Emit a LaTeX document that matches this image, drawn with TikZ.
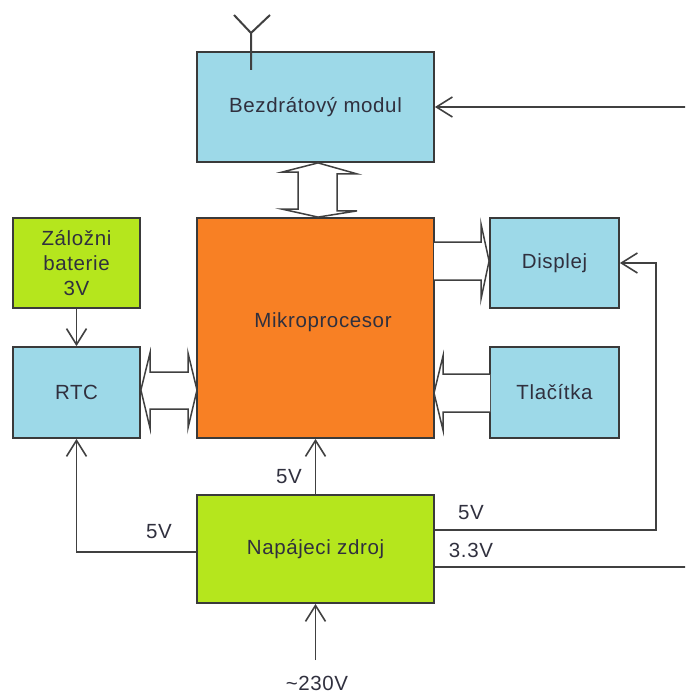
\documentclass[tikz,border=0pt]{standalone}
\usepackage{fontspec}
\setmainfont[LetterSpace=3]{Liberation Sans}
\usetikzlibrary{arrows.meta,calc}
\definecolor{boxblue}{HTML}{9DD9E8}
\definecolor{boxgreen}{HTML}{B5E61D}
\definecolor{boxorange}{HTML}{F88024}
\definecolor{edge}{HTML}{3A3A3A}
\definecolor{txt}{HTML}{30303E}
\definecolor{wire}{HTML}{404040}
\tikzset{
  blk/.style={draw=edge, line width=1.8pt, rectangle, inner sep=0pt, text=txt,
    font=\fontsize{20.5}{25}\selectfont, align=center},
  bluebox/.style={blk, fill=boxblue},
  greenbox/.style={blk, fill=boxgreen},
  orangebox/.style={blk, fill=boxorange},
  pw/.style={draw=wire, line width=1.6pt},
  pwarrow/.style={pw, -{Straight Barb[length=16pt,width=20pt,line width=1.6pt]}},
  bus/.style={draw=wire, line width=1.5pt, fill=white, line join=miter},
  lbl/.style={text=txt, font=\fontsize{20.5}{24}\selectfont, inner sep=0pt},
}
\begin{document}
\begin{tikzpicture}[x=1pt,y=-1pt]
\useasboundingbox (0,0) rectangle (685,693);
\clip (0,0) rectangle (685,693);

% blocks
\node[bluebox, minimum width=237pt, minimum height=110pt] (bez) at (315.5,107) {Bezdrátový modul};
\node[orangebox, minimum width=237pt, minimum height=220pt] (mic) at (315.5,328) {};
\node[lbl] (miclbl) at (323,322) {Mikroprocesor};
\node[greenbox, minimum width=237pt, minimum height=108pt] (nap) at (315.5,549) {Napájeci zdroj};
\node[bluebox, minimum width=129pt, minimum height=90pt] (dis) at (554.5,263) {Displej};
\node[bluebox, minimum width=129pt, minimum height=91pt] (tla) at (554.5,392.5) {Tlačítka};
\node[greenbox, minimum width=127pt, minimum height=90pt] (bat) at (76.5,263) {Záložni\\baterie\\3V};
\node[bluebox, minimum width=127pt, minimum height=91pt] (rtc) at (76.5,392.5) {RTC};

% antenna
\coordinate (antbase) at (251,70);
\coordinate (antjoin) at (251,33);
\coordinate (antl) at (234,15);
\coordinate (antr) at (270,15);
\draw[pw, line width=2pt] (antbase) -- (antjoin) -- (antl);
\draw[pw, line width=2pt] (antjoin) -- (antr);

% bus: bez <-> mic
\draw[bus] ([xshift=2.5pt]bez.south) -- ++(39,11) -- ++(-20,0) -- ++(0,37) -- ++(20,0)
  -- ([xshift=2.5pt]mic.north) -- ++(-36,-8) -- ++(16,0) -- ++(0,-37) -- ++(-16,0) -- cycle;

% bus: mic -> displej
\coordinate (dA) at (434,242);
\coordinate (dB) at (434,280);
\draw[bus] (dA) -- (481,242) -- (481,224) -- ([yshift=2pt]dis.west) -- (481,299) -- (481,280) -- (dB);

% bus: tlacitka -> mic
\coordinate (tT) at (434,393);
\coordinate (tA) at (490,374);
\coordinate (tB) at (490,412);
\draw[bus] (tA) -- (443,374) -- (443,356) -- (tT) -- (443,430) -- (443,412) -- (tB);

% bus: rtc <-> mic
\coordinate (rT) at (197,390);
\draw[bus] ([yshift=2.5pt]rtc.east) -- (150,353) -- (150,372) -- (188,372) -- (188,353) -- (rT)
  -- (188,428) -- (188,409) -- (150,409) -- (150,428) -- cycle;

% power wiring
\draw[pwarrow] (bat.south) -- (rtc.north);
\draw[pwarrow] (nap.north) -- (mic.south);
\coordinate (mains) at (315.5,660);
\draw[pwarrow] (mains) -- (nap.south);
\draw[pwarrow] ([yshift=-3pt]nap.west) -| (rtc.south);
\coordinate (r5) at (656,263);
\draw[pwarrow] ([yshift=19pt]nap.east) -| (r5) -- (dis.east);
\coordinate (r33a) at (700,567);
\coordinate (r33b) at (700,107);
\draw[pwarrow] ([yshift=-18pt]nap.east) -- (r33a) -- (r33b) -- (bez.east);

% labels
\node[lbl] (l5top) at (289,477) {5V};
\node[lbl] (l5left) at (159,532) {5V};
\node[lbl] (l5right) at (471,513) {5V};
\node[lbl] (l33) at (471,550) {3.3V};
\node[lbl] (l230) at (317,683) {\textasciitilde230V};
\end{tikzpicture}
\end{document}
